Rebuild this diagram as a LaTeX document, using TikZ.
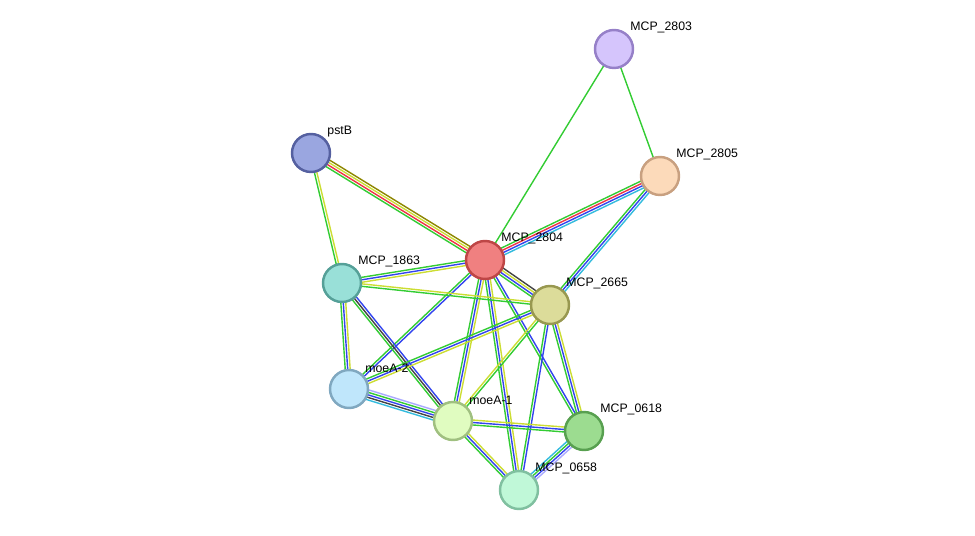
\documentclass[tikz,border=0pt]{standalone}
\usepackage{fontspec}
\setmainfont{Liberation Sans}
\usetikzlibrary{calc,backgrounds}

\definecolor{tm}{HTML}{33CC33}
\definecolor{co}{HTML}{3344EE}
\definecolor{yl}{HTML}{CCDD33}
\definecolor{rd}{HTML}{EE3344}
\definecolor{lb}{HTML}{33BBDD}
\definecolor{gb}{HTML}{AAAAFF}
\definecolor{dk}{HTML}{444444}

\tikzset{
  prot/.style={circle, minimum size=0.76cm, inner sep=0pt, line width=1.4pt},
  lbl/.style={font=\fontsize{7}{8}\selectfont, inner sep=1pt},
  ln/.style={line width=0.8pt}
}
% one parallel line per colour/offset pair
\newcommand{\elink}[3]{\foreach \c/\o in {#3}{\draw[ln,\c] ($(#1)!{\o*1.4pt}!90:(#2)$) -- ($(#2)!{\o*1.4pt}!-90:(#1)$);}}

\begin{document}
\begin{tikzpicture}[x=0.02cm,y=-0.02cm]
\useasboundingbox (0,0) rectangle (975,536);

\node[prot, fill={rgb,255:red,213;green,197;blue,252}, draw={rgb,255:red,150;green,128;blue,200}, label={[lbl,anchor=south west]north east:MCP\_2803}] (m2803) at (614,49) {};
\node[prot, fill={rgb,255:red,252;green,218;blue,186}, draw={rgb,255:red,200;green,160;blue,128}, label={[lbl,anchor=south west]north east:MCP\_2805}] (m2805) at (660,176) {};
\node[prot, fill={rgb,255:red,154;green,166;blue,224}, draw={rgb,255:red,85;green,96;blue,160}, label={[lbl,anchor=south west]north east:pstB}] (pstb) at (311,153) {};
\node[prot, fill={rgb,255:red,240;green,128;blue,128}, draw={rgb,255:red,190;green,70;blue,70}, label={[lbl,anchor=south west]north east:MCP\_2804}] (m2804) at (485,260) {};
\node[prot, fill={rgb,255:red,153;green,224;blue,216}, draw={rgb,255:red,85;green,160;blue,152}, label={[lbl,anchor=south west]north east:MCP\_1863}] (m1863) at (342,283) {};
\node[prot, fill={rgb,255:red,220;green,220;blue,154}, draw={rgb,255:red,152;green,152;blue,80}, label={[lbl,anchor=south west]north east:MCP\_2665}] (m2665) at (550,305) {};
\node[prot, fill={rgb,255:red,191;green,230;blue,251}, draw={rgb,255:red,128;green,168;blue,192}, label={[lbl,anchor=south west]north east:moeA-2}] (moea2) at (349,389) {};
\node[prot, fill={rgb,255:red,224;green,252;blue,192}, draw={rgb,255:red,160;green,192;blue,128}, label={[lbl,anchor=south west]north east:moeA-1}] (moea1) at (453,421) {};
\node[prot, fill={rgb,255:red,156;green,220;blue,144}, draw={rgb,255:red,88;green,160;blue,80}, label={[lbl,anchor=south west]north east:MCP\_0618}] (m0618) at (584,431) {};
\node[prot, fill={rgb,255:red,192;green,248;blue,216}, draw={rgb,255:red,128;green,192;blue,160}, label={[lbl,anchor=south west]north east:MCP\_0658}] (m0658) at (519,490) {};

\begin{scope}[on background layer]
\elink{m2803}{m2804}{tm/0}
\elink{m2803}{m2805}{tm/0}
\elink{m2805}{m2804}{tm/-1.5,rd/-0.5,co/0.5,lb/1.5}
\elink{m2805}{m2665}{tm/-1,co/0,lb/1}
\elink{pstb}{m2804}{tm/-1.5,rd/-0.5,yl/0.5,olive/1.5}
\elink{pstb}{m1863}{tm/-0.5,yl/0.5}
\elink{m2804}{m1863}{tm/-1,co/0,yl/1}
\elink{m2804}{m2665}{tm/-1.5,co/-0.5,yl/0.5,dk/1.5}
\elink{m2804}{moea2}{tm/-0.5,co/0.5}
\elink{m2804}{moea1}{tm/-1,co/0,yl/1}
\elink{m2804}{m0618}{tm/-0.5,co/0.5}
\elink{m2804}{m0658}{tm/-1,co/0,yl/1}
\elink{m1863}{m2665}{tm/-0.5,yl/0.5}
\elink{m1863}{moea2}{tm/-1,co/0,yl/1}
\elink{m1863}{moea1}{tm/-1,dk/0,co/1}
\elink{m2665}{moea2}{tm/-1,co/0,yl/1}
\elink{m2665}{moea1}{yl/-0.5,tm/0.5}
\elink{m2665}{m0618}{tm/-1,co/0,yl/1}
\elink{m2665}{m0658}{tm/-0.5,co/0.5}
\elink{moea2}{moea1}{lb/-2,dk/-1,co/0,tm/1,gb/2}
\elink{moea1}{m0618}{tm/-1,co/0,yl/1}
\elink{moea1}{m0658}{tm/-1,co/0,yl/1}
\elink{m0618}{m0658}{lb/-1.5,tm/-0.5,co/0.5,gb/1.5}
\end{scope}
\end{tikzpicture}
\end{document}
